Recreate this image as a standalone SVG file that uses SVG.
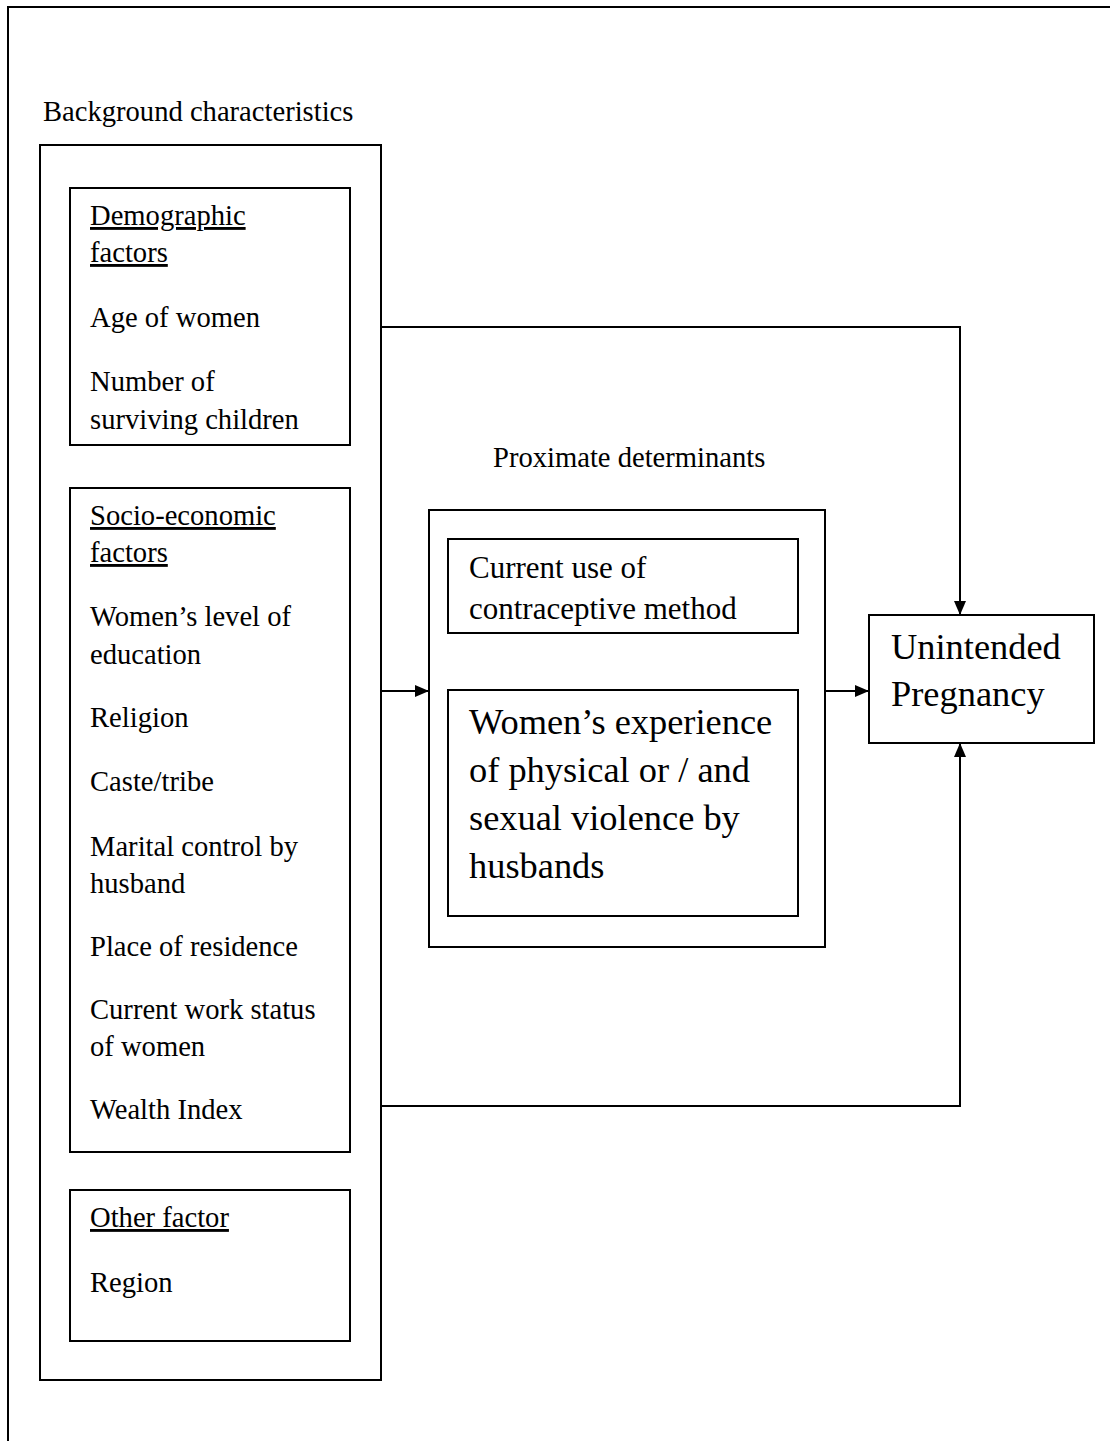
<svg xmlns="http://www.w3.org/2000/svg" width="1110" height="1441" viewBox="0 0 1110 1441">
  <style>
    .frame { fill: none; stroke: #000; stroke-width: 2; }
    .box { fill: #fff; stroke: #000; stroke-width: 2; }
    .t { font-family: "Liberation Serif", "Times New Roman", serif; font-size: 28.6px; fill: #000; }
    .tm { font-family: "Liberation Serif", "Times New Roman", serif; font-size: 31px; fill: #000; }
    .tl { font-family: "Liberation Serif", "Times New Roman", serif; font-size: 36.4px; fill: #000; }
    .u { text-decoration: underline; }
    .conn { fill: none; stroke: #000; stroke-width: 2; }
  </style>
  <defs>
    <marker id="arrow" viewBox="0 0 14 12" refX="14" refY="6" markerWidth="14" markerHeight="12" markerUnits="userSpaceOnUse" orient="auto">
      <path d="M0,0 L14,6 L0,12 Z" fill="#000"/>
    </marker>
  </defs>

  <rect width="1110" height="1441" fill="#fff"/>

  <!-- page frame (top and left edges) -->
  <path class="frame" d="M8,1441 L8,7 L1110,7"/>

  <!-- background characteristics column -->
  <g id="background">
    <text class="t" x="43" y="121">Background characteristics</text>
    <rect class="box" x="40" y="145" width="341" height="1235"/>
  </g>

  <g id="demographic">
    <rect class="box" x="70" y="188" width="280" height="257"/>
    <text class="t u" x="90" y="225">Demographic</text>
    <text class="t u" x="90" y="262">factors</text>
    <text class="t" x="90" y="327">Age of women</text>
    <text class="t" x="90" y="391">Number of</text>
    <text class="t" x="90" y="429">surviving children</text>
  </g>

  <g id="socioeconomic">
    <rect class="box" x="70" y="488" width="280" height="664"/>
    <text class="t u" x="90" y="525">Socio-economic</text>
    <text class="t u" x="90" y="562">factors</text>
    <text class="t" x="90" y="626">Women’s level of</text>
    <text class="t" x="90" y="664">education</text>
    <text class="t" x="90" y="727">Religion</text>
    <text class="t" x="90" y="791">Caste/tribe</text>
    <text class="t" x="90" y="856">Marital control by</text>
    <text class="t" x="90" y="893">husband</text>
    <text class="t" x="90" y="956">Place of residence</text>
    <text class="t" x="90" y="1019">Current work status</text>
    <text class="t" x="90" y="1056">of women</text>
    <text class="t" x="90" y="1119">Wealth Index</text>
  </g>

  <g id="other">
    <rect class="box" x="70" y="1190" width="280" height="151"/>
    <text class="t u" x="90" y="1227">Other factor</text>
    <text class="t" x="90" y="1292">Region</text>
  </g>

  <!-- proximate determinants -->
  <g id="proximate">
    <text class="t" x="493" y="467">Proximate determinants</text>
    <rect class="box" x="429" y="510" width="396" height="437"/>
  </g>

  <g id="contraception">
    <rect class="box" x="448" y="539" width="350" height="94"/>
    <text class="tm" x="469" y="578">Current use of</text>
    <text class="tm" x="469" y="619">contraceptive method</text>
  </g>

  <g id="violence">
    <rect class="box" x="448" y="690" width="350" height="226"/>
    <text class="tl" x="469" y="734">Women’s experience</text>
    <text class="tl" x="469" y="782">of physical or / and</text>
    <text class="tl" x="469" y="830">sexual violence by</text>
    <text class="tl" x="469" y="878">husbands</text>
  </g>

  <g id="outcome">
    <rect class="box" x="869" y="615" width="225" height="128"/>
    <text class="tl" x="891" y="659">Unintended</text>
    <text class="tl" x="891" y="706">Pregnancy</text>
  </g>

  <!-- connectors -->
  <g id="connectors">
    <path class="conn" d="M381,327 L960,327 L960,615" marker-end="url(#arrow)"/>
    <path class="conn" d="M381,1106 L960,1106 L960,743" marker-end="url(#arrow)"/>
    <path class="conn" d="M381,691 L429,691" marker-end="url(#arrow)"/>
    <path class="conn" d="M825,691 L869,691" marker-end="url(#arrow)"/>
  </g>
</svg>
